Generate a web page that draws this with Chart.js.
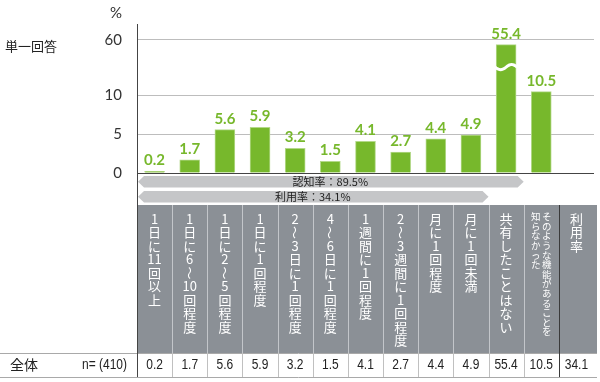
<!DOCTYPE html>
<html><head><meta charset="utf-8">
<script src="https://cdn.jsdelivr.net/npm/chart.js@4/dist/chart.umd.min.js"></script>
<style>html,body{margin:0;padding:0;background:#fff}canvas{display:block}</style>
</head><body>
<canvas id="c" width="600" height="382"></canvas>
<script>
// ---- data ----
const categories = ["1日に11回以上","1日に6〜10回程度","1日に2〜5回程度","1日に1回程度","2〜3日に1回程度","4〜6日に1回程度","1週間に1回程度","2〜3週間に1回程度","月に1回程度","月に1回未満","共有したことはない","そのような機能があることを\n知らなかった","利用率"];
const values = [0.2,1.7,5.6,5.9,3.2,1.5,4.1,2.7,4.4,4.9,55.4,10.5];
const usageRate = 34.1;
const awarenessRate = 89.5;
const yTickValues = [0,5,10,60];
const groupLabel = "全体";
const sampleLabel = "n= (410)";
const answerType = "単一回答";
const unitLabel = "%";
const awarenessLabel = "認知率：" + awarenessRate + "%";
const usageLabel = "利用率：" + usageRate + "%";
const awarenessCols = 11;   // columns covered by awareness band
const usageCols = 10;       // columns covered by usage band

// ---- broken axis mapping ----
const KNOT = 10.5, TOPV = 60, TOPF = 17.18, FMAX = 19.23;
const K = (TOPF - KNOT) / (TOPV - KNOT);
const fwd = v => v <= KNOT ? v : KNOT + (v - KNOT) * K;
const inv = f => f <= KNOT ? f : KNOT + (f - KNOT) / K;

class BrokenLinear extends Chart.LinearScale {
  buildTicks() { return yTickValues.map(v => ({ value: v })); }
  getPixelForValue(v) { return v == null ? NaN : super.getPixelForValue(fwd(v)); }
  getValueForPixel(p) { return inv(super.getValueForPixel(p)); }
}
BrokenLinear.id = 'brokenLinear';
BrokenLinear.defaults = Chart.LinearScale.defaults;
Chart.register(BrokenLinear);

const GREEN = '#77b82c';
const CJK = '"Noto Sans CJK JP", "Noto Sans", sans-serif';

function tokens(s) { return s.match(/\d+|./gu) || []; }

function drawVertical(ctx, text, xc, yStart, pitch, font) {
  ctx.font = font;
  ctx.textAlign = 'center';
  ctx.textBaseline = 'middle';
  tokens(text).forEach((t, i) => {
    const yy = yStart + i * pitch;
    if (t === '〜' || t === '~') {
      ctx.save(); ctx.translate(xc, yy); ctx.rotate(Math.PI / 2);
      ctx.fillText('〜', 0, 0); ctx.restore();
    } else {
      ctx.fillText(t, xc, yy);
    }
  });
}

function narrowText(ctx, text, xx, yy, align) {
  ctx.save();
  ctx.translate(xx, yy);
  ctx.scale(0.8, 1);
  ctx.textAlign = align;
  ctx.fillText(text, 0, 0);
  ctx.restore();
}

const deco = {
  id: 'deco',
  afterDraw(chart) {
    const { ctx, chartArea: ca, scales: { x, y } } = chart;
    const n = categories.length;
    const colW = x.getPixelForValue(1) - x.getPixelForValue(0);
    const cx = i => x.getPixelForValue(i);
    const edgeL = i => cx(i) - colW / 2;
    const tableRight = 597;
    const hTop = 205, hBot = 353, rBot = 377;
    ctx.save();

    // header block
    ctx.fillStyle = '#8b9096';
    ctx.fillRect(ca.left, hTop, tableRight - ca.left, hBot - hTop);
    for (let i = 1; i < n; i++) {
      const xx = Math.round(edgeL(i)) + 0.5;
      ctx.strokeStyle = i === n - 1 ? '#3a3a3a' : '#c3c6ca';
      ctx.lineWidth = 1;
      ctx.beginPath(); ctx.moveTo(xx, hTop); ctx.lineTo(xx, hBot); ctx.stroke();
    }
    ctx.fillStyle = '#ffffff';
    categories.forEach((c, i) => {
      const lines = c.split('\n');
      if (lines.length === 1) {
        drawVertical(ctx, c, cx(i), 219, 13.5, '13px ' + CJK);
      } else {
        const gap = 11;
        lines.forEach((ln, j) => {
          const xc = cx(i) + ((lines.length - 1) / 2 - j) * gap;
          drawVertical(ctx, ln, xc, 216.5, 9.6, '9.5px ' + CJK);
        });
      }
    });

    // data row
    ctx.strokeStyle = '#a9a9a9';
    ctx.lineWidth = 1;
    ctx.beginPath(); ctx.moveTo(0, hBot + 0.5); ctx.lineTo(tableRight, hBot + 0.5); ctx.stroke();
    ctx.beginPath(); ctx.moveTo(0, rBot + 0.5); ctx.lineTo(tableRight, rBot + 0.5); ctx.stroke();
    for (let i = 1; i < n; i++) {
      const xx = Math.round(edgeL(i)) + 0.5;
      ctx.strokeStyle = i === n - 1 ? '#3a3a3a' : '#c0c0c0';
      ctx.beginPath(); ctx.moveTo(xx, hBot); ctx.lineTo(xx, rBot); ctx.stroke();
    }
    const rowVals = values.concat([usageRate]);
    ctx.fillStyle = '#222';
    ctx.textBaseline = 'middle';
    ctx.font = '15px "Liberation Sans", Arial, sans-serif';
    rowVals.forEach((v, i) => narrowText(ctx, v.toFixed(1), cx(i), 365, 'center'));
    narrowText(ctx, sampleLabel, 127, 365, 'right');
    ctx.textAlign = 'left';
    ctx.font = '14px ' + CJK;
    ctx.fillText(groupLabel, 10, 365);

    // axis line extension
    ctx.strokeStyle = '#444';
    ctx.beginPath(); ctx.moveTo(Math.round(ca.left) + 0.5, ca.bottom); ctx.lineTo(Math.round(ca.left) + 0.5, rBot); ctx.stroke();

    // bands
    function band(x0, x1, top, h, text) {
      const mid = top + h / 2, p = 6;
      ctx.fillStyle = '#c5c6c8';
      ctx.beginPath();
      ctx.moveTo(x0 + 1, mid);
      ctx.lineTo(x0 + 1 + p, top);
      ctx.lineTo(x1 - p, top);
      ctx.lineTo(x1, mid);
      ctx.lineTo(x1 - p, top + h);
      ctx.lineTo(x0 + 1 + p, top + h);
      ctx.closePath(); ctx.fill();
      ctx.fillStyle = '#222';
      ctx.font = '11px ' + CJK;
      ctx.textAlign = 'center'; ctx.textBaseline = 'middle';
      ctx.fillText(text, (x0 + x1) / 2, mid + 0.5);
    }
    band(edgeL(0), edgeL(awarenessCols), 176, 11.5, awarenessLabel);
    band(edgeL(0), edgeL(usageCols), 191, 11.5, usageLabel);

    // value labels + break marks
    const meta = chart.getDatasetMeta(0);
    ctx.font = 'bold 15px Lato, "Open Sans", sans-serif';
    ctx.textAlign = 'center'; ctx.textBaseline = 'alphabetic';
    meta.data.forEach((el, i) => {
      const v = values[i];
      if (v == null) return;
      ctx.fillStyle = GREEN;
      ctx.fillText(v.toFixed(1), el.x, el.y - 6);
      if (v > 20) {
        const yw = (el.y + y.getPixelForValue(10)) / 2 - 3;
        const w = el.width;
        const xl = el.x - w / 2 - 1, xr = el.x + w / 2 + 1;
        ctx.strokeStyle = '#ffffff';
        ctx.lineWidth = 3;
        ctx.beginPath();
        for (let t = 0; t <= 20; t++) {
          const xx = xl + (xr - xl) * t / 20;
          const yy = yw + 2.6 * Math.sin(t / 20 * Math.PI * 2);
          t === 0 ? ctx.moveTo(xx, yy) : ctx.lineTo(xx, yy);
        }
        ctx.stroke();
      }
    });

    // titles
    ctx.fillStyle = '#333';
    ctx.font = '15px Lato, "Open Sans", sans-serif';
    ctx.textAlign = 'right'; ctx.textBaseline = 'middle';
    ctx.fillText(unitLabel, 122, 13);
    ctx.fillStyle = '#222';
    ctx.font = '13px ' + CJK;
    ctx.textAlign = 'left';
    ctx.fillText(answerType, 5, 46.5);
    ctx.restore();
  }
};

new Chart(document.getElementById('c'), {
  type: 'bar',
  data: {
    labels: categories,
    datasets: [{
      data: values.concat([null]),
      backgroundColor: GREEN,
      borderColor: '#b4d98a',
      borderWidth: { top: 1, left: 1, right: 1, bottom: 0 },
      barThickness: 20
    }]
  },
  options: {
    responsive: false,
    animation: false,
    devicePixelRatio: 1,
    layout: { padding: { top: 23, right: 6, bottom: 209, left: 0 } },
    plugins: { legend: { display: false }, tooltip: { enabled: false } },
    scales: {
      x: { type: 'category', display: false, offset: true },
      y: {
        type: 'brokenLinear',
        min: 0, max: FMAX,
        afterFit: s => { s.width = 137; },
        border: { display: true, color: '#444', width: 1 },
        grid: {
          drawTicks: false,
          color: c => (c.tick && c.tick.value === 0) ? '#444' : '#bdbdbd',
          lineWidth: 1
        },
        ticks: {
          padding: 15,
          color: '#333',
          font: { family: 'Lato, "Open Sans", sans-serif', size: 15 },
          callback: v => String(v)
        }
      }
    }
  },
  plugins: [deco]
});
</script>
</body></html>
